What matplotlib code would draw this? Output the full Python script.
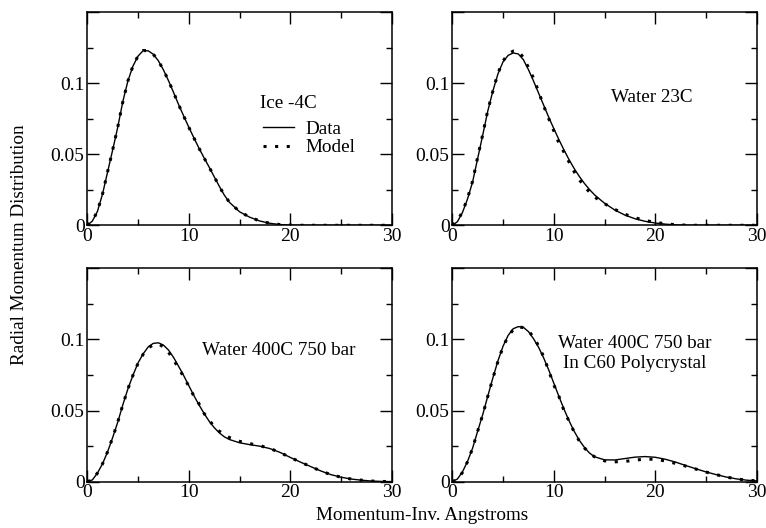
import matplotlib
matplotlib.use("Agg")
import matplotlib.pyplot as plt
from matplotlib.ticker import MultipleLocator, FuncFormatter
from matplotlib.lines import Line2D

plt.rcParams['font.family'] = ['Liberation Serif', 'DejaVu Serif']

# momentum grid (inverse Angstroms)
q = [0, 0.5, 1, 1.5, 2, 2.5, 3, 3.5, 4, 4.5, 5, 5.5, 6, 6.5, 7, 7.5, 8, 8.5, 9, 9.5,
     10, 10.5, 11, 11.5, 12, 12.5, 13, 13.5, 14,
     15, 16, 17, 18, 19, 20, 21, 22, 23, 24, 25, 26, 27, 28, 29, 30]

# Ice -4C
ice_data = [0, 0.003, 0.0098, 0.022, 0.0375, 0.053, 0.069, 0.087, 0.1015, 0.112, 0.119, 0.1228,
            0.1227, 0.1203, 0.1157, 0.1093, 0.1017, 0.0934, 0.0848, 0.0768, 0.069, 0.0615,
            0.0543, 0.0475, 0.041, 0.0342, 0.0275, 0.0212, 0.0162,
            0.0095, 0.0057, 0.003, 0.0014, 0.0005, 0.0001, 0, 0, 0, 0, 0, 0, 0, 0, 0, 0]
ice_model = [0, 0.003, 0.0099, 0.022, 0.0376, 0.053, 0.069, 0.0868, 0.1015, 0.1121, 0.1191, 0.1229,
             0.1228, 0.1203, 0.1156, 0.1093, 0.1017, 0.0934, 0.0848, 0.0768, 0.069, 0.0615,
             0.0543, 0.0475, 0.041, 0.0342, 0.0275, 0.0212, 0.0163,
             0.0096, 0.0058, 0.003, 0.0014, 0.0005, 0.0001, 0, 0, 0, 0, 0, 0, 0, 0, 0, 0]

# Water 23C
w23_data = [0, 0.0025, 0.009, 0.0185, 0.0305, 0.047, 0.0635, 0.0805, 0.0945, 0.1065, 0.115, 0.1195,
            0.1212, 0.1205, 0.1165, 0.1095, 0.1015, 0.093, 0.0845, 0.076, 0.068, 0.0603,
            0.053, 0.0462, 0.040, 0.0345, 0.0296, 0.0253, 0.0215,
            0.0155, 0.0108, 0.0072, 0.0046, 0.0028, 0.0016, 0.0008, 0.0003, 0.0001, 0, 0, 0, 0, 0, 0, 0]
w23_model = [0, 0.003, 0.0095, 0.019, 0.031, 0.048, 0.064, 0.081, 0.0945, 0.107, 0.1155, 0.1205,
             0.1225, 0.1225, 0.118, 0.111, 0.1035, 0.094, 0.084, 0.075, 0.0665, 0.058,
             0.0515, 0.0445, 0.0378, 0.0322, 0.0275, 0.0235, 0.020,
             0.0152, 0.0112, 0.0078, 0.0053, 0.0034, 0.002, 0.0011, 0.0004, 0.0001, 0, 0, 0, 0, 0, 0, 0]

# Water 400C 750 bar
w400_data = [0, 0.0012, 0.006, 0.0125, 0.021, 0.031, 0.0418, 0.054, 0.0652, 0.0748, 0.0835, 0.0898,
             0.0947, 0.0972, 0.0976, 0.096, 0.0925, 0.0873, 0.081, 0.0745, 0.0675, 0.0605,
             0.054, 0.048, 0.0425, 0.038, 0.0343, 0.0315, 0.0296,
             0.0273, 0.026, 0.0249, 0.0232, 0.0205, 0.017, 0.0137, 0.0106, 0.0075, 0.0049, 0.0031,
             0.0018, 0.001, 0.0004, 0.0001, 0]
w400_model = [0, 0.0012, 0.006, 0.0125, 0.021, 0.031, 0.0418, 0.054, 0.0652, 0.0748, 0.0832, 0.0895,
              0.094, 0.0962, 0.0968, 0.0948, 0.091, 0.0857, 0.0797, 0.0737, 0.067, 0.0602,
              0.0548, 0.048, 0.043, 0.039, 0.0355, 0.0328, 0.031,
              0.0283, 0.0267, 0.0253, 0.0233, 0.0204, 0.017, 0.0137, 0.0106, 0.0075, 0.0049, 0.0031,
              0.0018, 0.001, 0.0004, 0.0001, 0]

# Water 400C 750 bar in C60 polycrystal
c60_data = [0, 0.0018, 0.0068, 0.0142, 0.0235, 0.0355, 0.0472, 0.0602, 0.073, 0.085, 0.0952, 0.1028,
            0.1075, 0.109, 0.1085, 0.1055, 0.1005, 0.0945, 0.087, 0.0785, 0.0692, 0.060,
            0.051, 0.0428, 0.0355, 0.0292, 0.0242, 0.0202, 0.0175,
            0.0153, 0.0152, 0.0162, 0.0172, 0.0176, 0.0171, 0.0157, 0.0137, 0.0113, 0.009, 0.0068,
            0.0049, 0.0032, 0.0019, 0.001, 0.0005]
c60_model = [0, 0.0016, 0.0064, 0.014, 0.0235, 0.0355, 0.047, 0.060, 0.0728, 0.0845, 0.0948, 0.1022,
             0.1068, 0.1088, 0.1083, 0.1062, 0.1015, 0.0955, 0.0878, 0.078, 0.068, 0.060,
             0.050, 0.0425, 0.035, 0.0287, 0.0238, 0.020, 0.0175,
             0.0146, 0.0139, 0.0142, 0.0151, 0.0158, 0.0157, 0.0145, 0.0128, 0.0109, 0.0088, 0.0067,
             0.0049, 0.0032, 0.0019, 0.001, 0.0005]

panels = [
    (ice_data, ice_model, "Ice -4C"),
    (w23_data, w23_model, "Water 23C"),
    (w400_data, w400_model, "Water 400C 750 bar"),
    (c60_data, c60_model, "Water 400C 750 bar\nIn C60 Polycrystal"),
]
label_pos = [(17.0, 0.0855), (19.7, 0.0896), (18.9, 0.0925), (18.0, 0.0902)]

W, H = 766, 528
fig = plt.figure(figsize=(W / 100, H / 100), dpi=100)

# axes boxes in pixels: left, top
boxes = [(87.3, 12), (452.3, 12), (87.3, 268.3), (452.3, 268.3)]
bw, bh = 304.5, 213.3

FS = 13.8
dot_style = dict(color='black', linewidth=2.2, linestyle=(0, (1, 2.8)), dash_capstyle='butt')

for i, ((d, m, name), (lx, ty)) in enumerate(zip(panels, boxes)):
    ax = fig.add_axes([lx / W, 1 - (ty + bh) / H, bw / W, bh / H])
    ax.plot(q, d, color='black', linewidth=1.0)
    ax.plot(q, m, **dot_style)
    ax.set_xlim(0, 30)
    ax.set_ylim(0, 0.15)
    ax.xaxis.set_major_locator(MultipleLocator(10))
    ax.xaxis.set_minor_locator(MultipleLocator(5))
    ax.yaxis.set_major_locator(MultipleLocator(0.05))
    ax.yaxis.set_minor_locator(MultipleLocator(0.025))
    ax.yaxis.set_major_formatter(FuncFormatter(lambda v, p: f"{v:g}" if v < 0.14 else ""))
    ax.tick_params(which='both', direction='in', top=True, right=True, labelsize=14, width=1)
    ax.tick_params(which='major', length=8.5, pad=2)
    ax.tick_params(which='minor', length=4.5)
    for s in ax.spines.values():
        s.set_linewidth(1.1)

    x0, y0 = label_pos[i]
    if i == 0:
        ax.text(x0, y0, name, ha='left', va='center', fontsize=FS)
        h = [Line2D([], [], color='black', linewidth=1.0),
             Line2D([], [], **dot_style)]
        ax.legend(h, ["Data", "Model"], loc='upper left',
                  bbox_to_anchor=(0.577, 0.491), frameon=False, fontsize=FS,
                  handlelength=1.6, handletextpad=0.6,
                  labelspacing=0.05, borderpad=0, borderaxespad=0)
    else:
        ax.text(x0, y0, name, ha='center', va='center', fontsize=FS, linespacing=1.25)

fig.text(20 / W, 1 - 245 / H, "Radial Momentum Distribution", rotation=90,
         ha='center', va='center', fontsize=FS)
fig.text(422 / W, 1 - 516 / H, "Momentum-Inv. Angstroms", ha='center', va='center', fontsize=FS)

fig.savefig("out.png", dpi=100)
